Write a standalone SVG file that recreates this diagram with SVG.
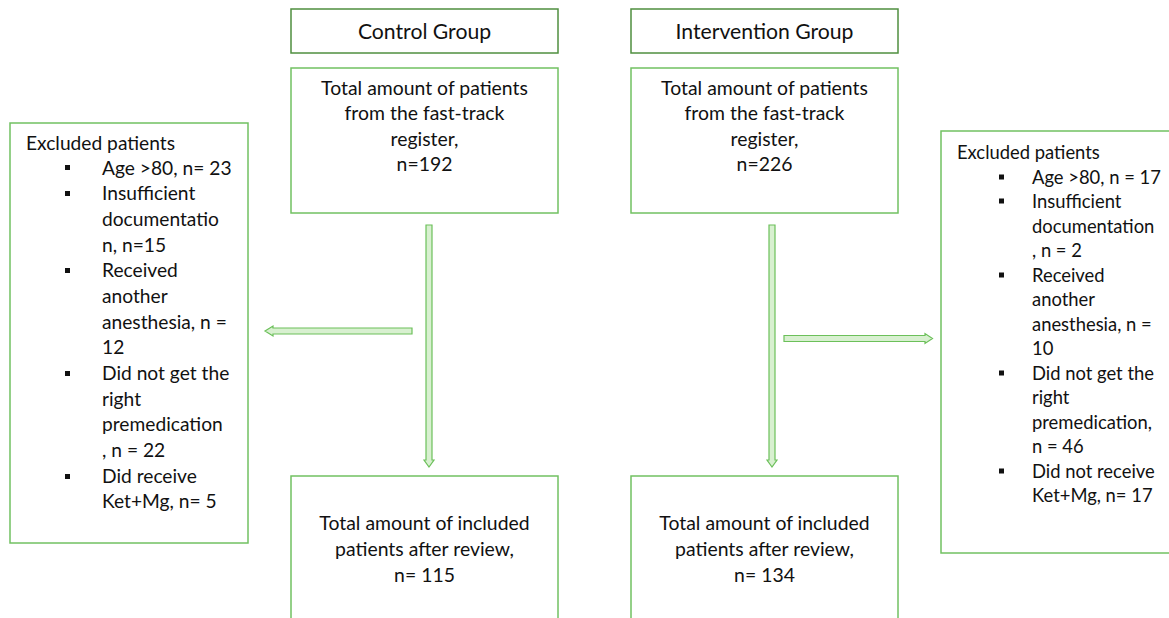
<svg xmlns="http://www.w3.org/2000/svg" width="1169" height="618" viewBox="0 0 1169 618">
<style>
.box{fill:#fff;stroke:#72c162;stroke-width:1.5}
.hdr{fill:#fff;stroke:#4f8f3f;stroke-width:1.5}
.arr{fill:#d8f0d0;stroke:#6cc05a;stroke-width:1.2;stroke-linejoin:miter}
text{font-family:Lato,"Liberation Sans",sans-serif;fill:#111}
.h{font-size:21.2px;text-anchor:middle}
.c{font-size:19.4px;text-anchor:middle}
.l{font-size:19.2px}
.r{font-size:18.4px}
.b{fill:#111}
</style>
<rect width="1169" height="618" fill="#fff"/>
<g id="control-header">
<rect class="hdr" x="291" y="9" width="267" height="44"/>
<text class="h" x="424.5" y="39">Control Group</text>
</g>
<g id="intervention-header">
<rect class="hdr" x="631" y="9" width="267" height="44"/>
<text class="h" x="764.5" y="39">Intervention Group</text>
</g>
<g id="control-total">
<rect class="box" x="291" y="68" width="267" height="145"/>
<text class="c" x="424.5" y="95">Total amount of patients</text>
<text class="c" x="424.5" y="120">from the fast-track</text>
<text class="c" x="424.5" y="146">register,</text>
<text class="c" x="424.5" y="171">n=192</text>
</g>
<g id="intervention-total">
<rect class="box" x="631" y="68" width="267" height="145"/>
<text class="c" x="764.5" y="95">Total amount of patients</text>
<text class="c" x="764.5" y="120">from the fast-track</text>
<text class="c" x="764.5" y="146">register,</text>
<text class="c" x="764.5" y="171">n=226</text>
</g>
<g id="control-included">
<rect class="box" x="291" y="476" width="267" height="160"/>
<text class="c" x="424.5" y="530">Total amount of included</text>
<text class="c" x="424.5" y="556">patients after review,</text>
<text class="c" x="424.5" y="582">n= 115</text>
</g>
<g id="intervention-included">
<rect class="box" x="631" y="476" width="267" height="160"/>
<text class="c" x="764.5" y="530">Total amount of included</text>
<text class="c" x="764.5" y="556">patients after review,</text>
<text class="c" x="764.5" y="582">n= 134</text>
</g>
<g id="control-excluded">
<rect class="box" x="10" y="123" width="238" height="420"/>
<text class="l" x="26" y="150">Excluded patients</text>
<g class="b">
<rect x="65" y="165" width="5" height="5"/>
<rect x="65" y="191" width="5" height="5"/>
<rect x="65" y="268" width="5" height="5"/>
<rect x="65" y="371" width="5" height="5"/>
<rect x="65" y="474" width="5" height="5"/>
</g>
<text class="l" x="102" y="175">Age &gt;80, n= 23</text>
<text class="l" x="102" y="200">Insufficient</text>
<text class="l" x="102" y="226">documentatio</text>
<text class="l" x="102" y="252">n, n=15</text>
<text class="l" x="102" y="277">Received</text>
<text class="l" x="102" y="303">another</text>
<text class="l" x="102" y="329">anesthesia, n =</text>
<text class="l" x="102" y="354">12</text>
<text class="l" x="102" y="380">Did not get the</text>
<text class="l" x="102" y="406">right</text>
<text class="l" x="102" y="431">premedication</text>
<text class="l" x="102" y="457">, n = 22</text>
<text class="l" x="102" y="483">Did receive</text>
<text class="l" x="102" y="508">Ket+Mg, n= 5</text>
</g>
<g id="intervention-excluded">
<rect class="box" x="941" y="131" width="240" height="422"/>
<text class="r" x="957" y="158.5">Excluded patients</text>
<g class="b">
<rect x="999" y="174.5" width="5" height="5"/>
<rect x="999" y="198.5" width="5" height="5"/>
<rect x="999" y="272.5" width="5" height="5"/>
<rect x="999" y="370.5" width="5" height="5"/>
<rect x="999" y="468.5" width="5" height="5"/>
</g>
<text class="r" x="1032" y="183.5">Age &gt;80, n = 17</text>
<text class="r" x="1032" y="207.5">Insufficient</text>
<text class="r" x="1032" y="232.5">documentation</text>
<text class="r" x="1032" y="256.5">, n = 2</text>
<text class="r" x="1032" y="281.5">Received</text>
<text class="r" x="1032" y="305.5">another</text>
<text class="r" x="1032" y="330.5">anesthesia, n =</text>
<text class="r" x="1032" y="354.5">10</text>
<text class="r" x="1032" y="379.5">Did not get the</text>
<text class="r" x="1032" y="403.5">right</text>
<text class="r" x="1032" y="428.5">premedication,</text>
<text class="r" x="1032" y="452.5">n = 46</text>
<text class="r" x="1032" y="477.5">Did not receive</text>
<text class="r" x="1032" y="501.5">Ket+Mg, n= 17</text>
</g>
<g id="connectors">
<polygon class="arr" points="426,225 432,225 432,460 434,460 429,467 424,460 426,460"/>
<polygon class="arr" points="769,225 775,225 775,460 777,460 772,467 767,460 769,460"/>
<polygon class="arr" points="412,328 273,328 273,326 265,331 273,336 273,334 412,334"/>
<polygon class="arr" points="784,335.5 925,335.5 925,333.5 932.5,338.5 925,343.5 925,341.5 784,341.5"/>
</g>
</svg>
